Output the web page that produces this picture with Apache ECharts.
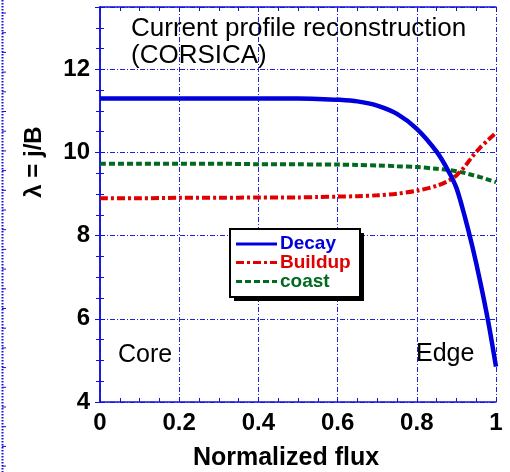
<!DOCTYPE html>
<html>
<head>
<meta charset="utf-8">
<script src="https://cdn.jsdelivr.net/npm/echarts@6/dist/echarts.min.js"></script>
<style>
  html, body { margin: 0; padding: 0; background: #fff; }
  #chart { width: 510px; height: 472px; }
</style>
</head>
<body>
<div id="chart"></div>
<script>
// Normalized flux sample points
const flux = [0, 0.1, 0.2, 0.3, 0.4, 0.5, 0.55, 0.6, 0.65, 0.7, 0.75, 0.8, 0.85, 0.88, 0.9, 0.92, 0.94, 0.96, 0.98, 1.0];
// lambda = j/B profiles
const decay   = [11.30, 11.30, 11.30, 11.30, 11.30, 11.30, 11.29, 11.27, 11.23, 11.13, 10.93, 10.57, 10.02, 9.55, 9.15, 8.50, 7.75, 6.90, 5.95, 4.85];
const buildup = [8.90, 8.90, 8.91, 8.91, 8.92, 8.92, 8.93, 8.94, 8.95, 8.97, 9.01, 9.08, 9.20, 9.32, 9.45, 9.65, 9.90, 10.12, 10.30, 10.47];
const coast   = [9.73, 9.73, 9.73, 9.73, 9.72, 9.72, 9.71, 9.71, 9.70, 9.69, 9.67, 9.65, 9.61, 9.58, 9.55, 9.51, 9.46, 9.41, 9.35, 9.29];

const seriesNames = ['Decay', 'Buildup', 'coast'];
const xTicks = [0, 0.2, 0.4, 0.6, 0.8, 1];
const yTicks = [4, 6, 8, 10, 12];

const BLUE = '#0000dd', RED = '#e00000', GREEN = '#006a1e';
const COLORS = [BLUE, RED, GREEN];
const DASHES = [null, [8, 3, 3, 3], [6, 3]];
const WIDTHS = [4.5, 4, 4];
const FONT = '"Liberation Sans", Arial, sans-serif';
const pair = ys => flux.map((x, i) => [x, ys[i]]);

const gridStyle = { color: '#2020e0', width: 1, type: [5, 2, 1, 2] };
const frameLine = { lineStyle: { color: '#1010e0', width: 1.5 } };
const tickIn = { inside: true, length: 5, lineStyle: { color: '#1010e0', width: 1 } };
const minorIn = { show: true, splitNumber: 4, length: 4, lineStyle: { color: '#1010e0', width: 1 } };

// dotted decoration on the far left
const leftDeco = [{
  type: 'line', shape: { x1: 2.5, y1: 0, x2: 2.5, y2: 472 },
  style: { stroke: '#1010e0', lineWidth: 2, lineDash: [1.5, 1.5] }
}];
for (let y = 13; y < 472; y += 19.7) {
  leftDeco.push({ type: 'line', shape: { x1: 2, y1: y, x2: 6, y2: y }, style: { stroke: '#1010e0', lineWidth: 1 } });
}

// boxed key with a hard drop shadow
const key = [
  { type: 'rect', z: 49, shape: { x: 234, y: 233, width: 130, height: 68 }, style: { fill: '#000' } },
  { type: 'rect', z: 50, shape: { x: 230, y: 229, width: 130, height: 68 }, style: { fill: '#fff', stroke: '#000', lineWidth: 2 } }
];
const keyRows = [244, 262.5, 281.5];
seriesNames.forEach((n, i) => {
  key.push({ type: 'line', z: 51, shape: { x1: 236, y1: keyRows[i], x2: 277, y2: keyRows[i] },
    style: { stroke: COLORS[i], lineWidth: 3, lineDash: DASHES[i] } });
  key.push({ type: 'text', z: 51, x: 280, y: keyRows[i],
    style: { text: n, font: 'bold 19px ' + FONT, fill: COLORS[i], verticalAlign: 'middle' } });
});

const chart = echarts.init(document.getElementById('chart'), null, { renderer: 'canvas' });
chart.setOption({
  animation: false,
  backgroundColor: '#fff',
  grid: { left: 100, right: 14, top: 7, bottom: 70 },
  xAxis: [{
    type: 'value', min: 0, max: 1, interval: 0.2,
    axisLine: frameLine, axisTick: tickIn, minorTick: minorIn,
    splitLine: { show: true, lineStyle: gridStyle },
    axisLabel: {
      margin: 9, color: '#000', fontFamily: FONT, fontWeight: 'bold', fontSize: 24,
      customValues: xTicks, formatter: v => String(+v.toFixed(1))
    }
  }, {
    type: 'value', min: 0, max: 1, interval: 0.2, position: 'top',
    axisLine: frameLine, axisTick: tickIn, minorTick: minorIn,
    axisLabel: { show: false }, splitLine: { show: false }
  }],
  yAxis: [{
    type: 'value', min: 4, max: 13.5, interval: 2,
    axisLine: frameLine, axisTick: tickIn, minorTick: minorIn,
    splitLine: { show: true, lineStyle: gridStyle },
    axisLabel: {
      margin: 10, color: '#000', fontFamily: FONT, fontWeight: 'bold', fontSize: 24,
      customValues: yTicks
    }
  }, {
    type: 'value', min: 4, max: 13.5, interval: 2, position: 'right',
    axisLine: frameLine, axisTick: tickIn, minorTick: minorIn,
    axisLabel: { show: false }, splitLine: { show: false }
  }],
  graphic: [
    ...leftDeco,
    ...key,
    { type: 'text', left: 131, top: 15, style: { text: 'Current profile reconstruction\n(CORSICA)', font: '26px ' + FONT, fill: '#000', lineHeight: 27 } },
    { type: 'text', left: 118, top: 343, style: { text: 'Core', font: '25px ' + FONT, fill: '#000' } },
    { type: 'text', left: 416, top: 342, style: { text: 'Edge', font: '25px ' + FONT, fill: '#000' } },
    { type: 'text', x: 34, y: 162, rotation: Math.PI / 2,
      style: { text: 'λ = j/B', font: 'bold 24px ' + FONT, fill: '#000', align: 'center', verticalAlign: 'middle' } },
    { type: 'text', x: 286, y: 458,
      style: { text: 'Normalized flux', font: 'bold 25px ' + FONT, fill: '#000', align: 'center', verticalAlign: 'middle' } }
  ],
  series: seriesNames.map((n, i) => ({
    name: n, type: 'line', data: pair([decay, buildup, coast][i]), smooth: 0.3, symbol: 'none',
    lineStyle: { color: COLORS[i], width: WIDTHS[i], type: DASHES[i] || 'solid' },
    itemStyle: { color: COLORS[i] }, z: 5 - i
  }))
});
</script>
</body>
</html>
